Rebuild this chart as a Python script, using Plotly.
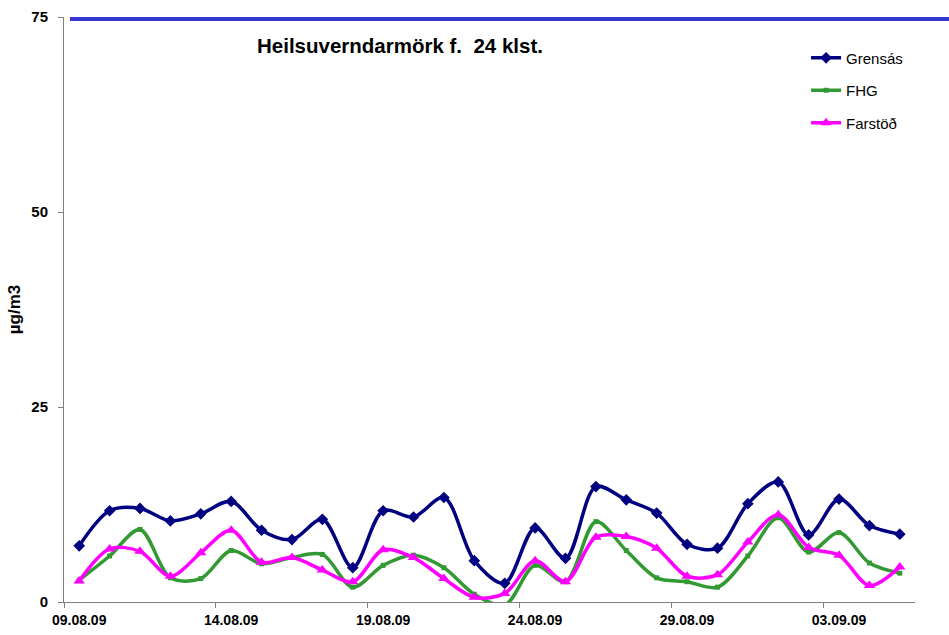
import plotly.graph_objects as go

dates = ["09.08.09", "10.08.09", "11.08.09", "12.08.09", "13.08.09", "14.08.09", "15.08.09",
         "16.08.09", "17.08.09", "18.08.09", "19.08.09", "20.08.09", "21.08.09", "22.08.09",
         "23.08.09", "24.08.09", "25.08.09", "26.08.09", "27.08.09", "28.08.09", "29.08.09",
         "30.08.09", "31.08.09", "01.09.09", "02.09.09", "03.09.09", "04.09.09", "05.09.09"]

grensas = [7.2, 11.7, 12.0, 10.4, 11.3, 12.9, 9.2, 8.0, 10.6, 4.4, 11.7, 10.9, 13.4, 5.3,
           2.4, 9.5, 5.6, 14.8, 13.1, 11.4, 7.4, 6.9, 12.6, 15.4, 8.6, 13.2, 9.8, 8.7]
fhg = [2.8, 5.9, 9.3, 3.1, 3.0, 6.6, 4.9, 5.7, 6.1, 1.9, 4.7, 6.0, 4.4, 1.0,
       -0.4, 4.7, 2.6, 10.3, 6.6, 3.1, 2.6, 1.9, 5.9, 10.8, 6.4, 8.9, 5.0, 3.7]
farstod = [2.7, 6.8, 6.5, 3.3, 6.3, 9.2, 5.1, 5.7, 4.1, 2.6, 6.7, 5.7, 3.0, 0.6,
           1.1, 5.3, 2.6, 8.3, 8.4, 6.9, 3.3, 3.5, 7.7, 11.2, 7.0, 6.0, 2.1, 4.5]

LIMIT = 75
TITLE = "Heilsuverndarmörk f.&nbsp; 24 klst."
FONT = "Liberation Sans, Arial, sans-serif"

fig = go.Figure()

series = [
    ("Grensás", grensas, "#000080", "diamond", 9),
    ("FHG", fhg, "#339933", "square", 5),
    ("Farstöð", farstod, "#FF00FF", "triangle-up", 10),
]
for i, (name, vals, color, sym, msize) in enumerate(series):
    fig.add_trace(go.Scatter(
        x=dates, y=vals, name=name, mode="lines+markers",
        line=dict(color=color, width=3.5, shape="spline", smoothing=0.9),
        marker=dict(symbol=sym, size=msize, color=color),
        legendgroup=f"g{i}",
    ))

fig.add_shape(type="line", xref="paper", yref="y", x0=0.007, x1=1.05, y0=LIMIT, y1=LIMIT,
              line=dict(color="#3636D0", width=8), layer="above")

fig.add_annotation(text=f"<b>{TITLE}</b>", xref="paper", yref="paper", x=0.395, y=0.952,
                   yanchor="middle", showarrow=False,
                   font=dict(size=20.5, color="black", family=FONT))

fig.update_layout(
    width=949, height=635,
    margin=dict(l=64, r=34, t=17, b=33),
    paper_bgcolor="white", plot_bgcolor="white",
    font=dict(family=FONT, color="black"),
    showlegend=True,
    legend=dict(x=0.872, y=0.958, xanchor="left", yanchor="top",
                font=dict(size=15, family=FONT), tracegroupgap=10,
                bgcolor="rgba(0,0,0,0)"),
)
fig.update_xaxes(
    type="category", tickmode="linear", tick0=0, dtick=5, tickson="boundaries",
    range=[-0.5, len(dates) - 0.5], tickangle=0, automargin=False,
    showline=True, linecolor="#808080", linewidth=1,
    ticks="outside", ticklen=5, tickcolor="#808080",
    showgrid=False, zeroline=False, ticklabelstandoff=5,
    tickfont=dict(size=14, family=FONT, weight="bold"),
)
fig.update_yaxes(
    range=[0, 75], tickvals=[0, 25, 50, 75], automargin=False,
    showline=True, linecolor="#808080", linewidth=1,
    ticks="outside", ticklen=5, tickcolor="#808080",
    showgrid=False, zeroline=False, ticklabelstandoff=7,
    tickfont=dict(size=15, family=FONT, weight="bold"),
    title=dict(text="<b>µg/m3</b>", font=dict(size=17, family=FONT), standoff=6),
)

fig.write_html("out.html", config={"displayModeBar": False},
               post_script="document.body.style.margin='0px';")
